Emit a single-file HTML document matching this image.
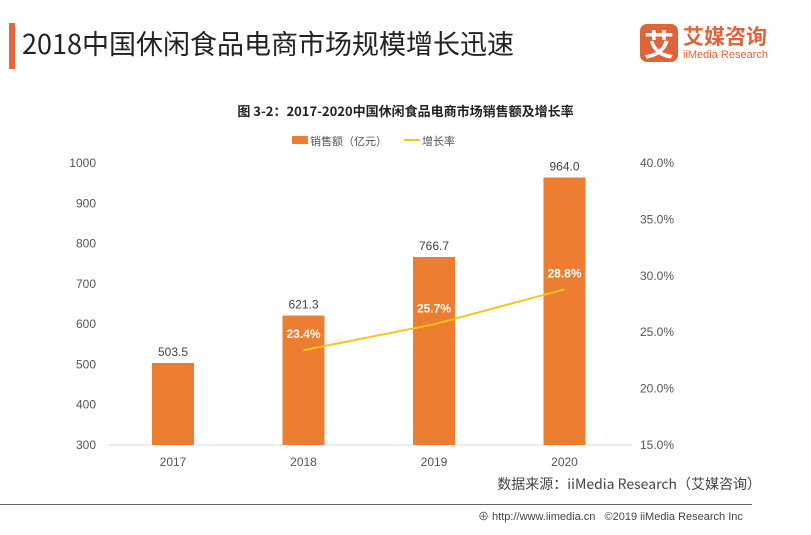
<!DOCTYPE html>
<html><head><meta charset="utf-8"><style>
body{margin:0;width:811px;height:535px;background:#fff;overflow:hidden;font-family:"Liberation Sans","Noto Sans CJK SC",sans-serif;position:relative}
.a{position:absolute;white-space:nowrap}
</style></head><body>
<div class="a" style="left:9px;top:23px;width:6px;height:46px;background:#e8663a"></div>
<div class="a" style="left:22px;top:26px;font-size:27px;color:#222;font-family:'Noto Sans CJK SC',sans-serif;line-height:34px">2018中国休闲食品电商市场规模增长迅速</div>
<div class="a" style="left:640px;top:24px;width:38px;height:38px;background:#e0643a;border-radius:7px;color:#fff;font-size:30px;line-height:38px;text-align:center;font-family:'Noto Sans CJK SC',sans-serif;font-weight:bold">艾</div>
<div class="a" style="left:683px;top:23px;font-size:21px;font-weight:bold;color:#e0643a;font-family:'Noto Sans CJK SC',sans-serif;line-height:26px">艾媒咨询</div>
<div class="a" style="left:683px;top:49px;font-size:11px;color:#e0643a;line-height:13px">iiMedia Research</div>
<div class="a" style="left:0;width:811px;text-align:center;top:101px;font-size:13px;font-weight:bold;color:#222;font-family:'Noto Sans CJK SC',sans-serif">图 3-2：2017-2020中国休闲食品电商市场销售额及增长率</div>
<svg class="a" style="left:0;top:0" width="811" height="535" id="chart"></svg>
<div class="a" style="right:50px;top:474px;font-size:14px;color:#444;font-family:'Noto Sans CJK SC',sans-serif">数据来源：iiMedia Research（艾媒咨询）</div>
<div class="a" style="left:0;top:504px;width:752px;height:1px;background:#666"></div>
<div class="a" style="left:478px;top:508px;font-size:11px;color:#444">⊕ http://www.iimedia.cn &nbsp;&nbsp;©2019 iiMedia Research Inc</div>
<script>
const categories=["2017","2018","2019","2020"];
const sales=[503.5,621.3,766.7,964.0];
const growth=[null,23.4,25.7,28.8];
const leftTicks=[300,400,500,600,700,800,900,1000];
const rightTicks=[15,20,25,30,35,40];
const NS="http://www.w3.org/2000/svg";
const svg=document.getElementById('chart');
const y0=445,y1=163,x0=108,step=130.5,bw=42;
const yL=v=>y0-(v-300)/700*(y0-y1);
const yR=v=>y0-(v-15)/25*(y0-y1);
const xC=i=>x0+65+i*step;
function mk(t,a,txt){const e=document.createElementNS(NS,t);for(const k in a)e.setAttribute(k,a[k]);if(txt!=null)e.textContent=txt;svg.appendChild(e);return e;}
let e=mk('line',{x1:x0,x2:632,y1:y0,y2:y0,stroke:'#d9d9d9'});


leftTicks.forEach(v=>{const t=mk('text',{x:96,y:yL(v)+4,'text-anchor':'end','font-size':12,fill:'#555'},v);

});
rightTicks.forEach(v=>{const t=mk('text',{x:640,y:yR(v)+4,'font-size':12,fill:'#555'},v.toFixed(1)+'%');

});
categories.forEach((c,i)=>{
const b=mk('rect',{x:xC(i)-bw/2,y:yL(sales[i]),width:bw,height:y0-yL(sales[i]),fill:'#ed7d31'});


const l=mk('text',{x:xC(i),y:yL(sales[i])-7,'text-anchor':'middle','font-size':12,fill:'#444'},sales[i].toFixed(1));


const x=mk('text',{x:xC(i),y:466,'text-anchor':'middle','font-size':12,fill:'#555'},c);


});
let pts=[];growth.forEach((g,i)=>{if(g!=null)pts.push(xC(i)+','+yR(g));});
const pl=mk('polyline',{points:pts.join(' '),fill:'none',stroke:'#f5c518','stroke-width':2});


growth.forEach((g,i)=>{if(g==null)return;const t=mk('text',{x:xC(i),y:yR(g)-12,'text-anchor':'middle','font-size':12,'font-weight':'bold',fill:'#fff'},g.toFixed(1)+'%');

});
const lg1=mk('rect',{x:292,y:136,width:16,height:8,fill:'#ed7d31'});


const lt1=mk('text',{x:310,y:145,'font-size':11,fill:'#555'},'销售额（亿元）');


const lg2=mk('line',{x1:404,x2:420,y1:140,y2:140,stroke:'#f5c518','stroke-width':2});


const lt2=mk('text',{x:422,y:145,'font-size':11,fill:'#555'},'增长率');


</script>
</body></html>
